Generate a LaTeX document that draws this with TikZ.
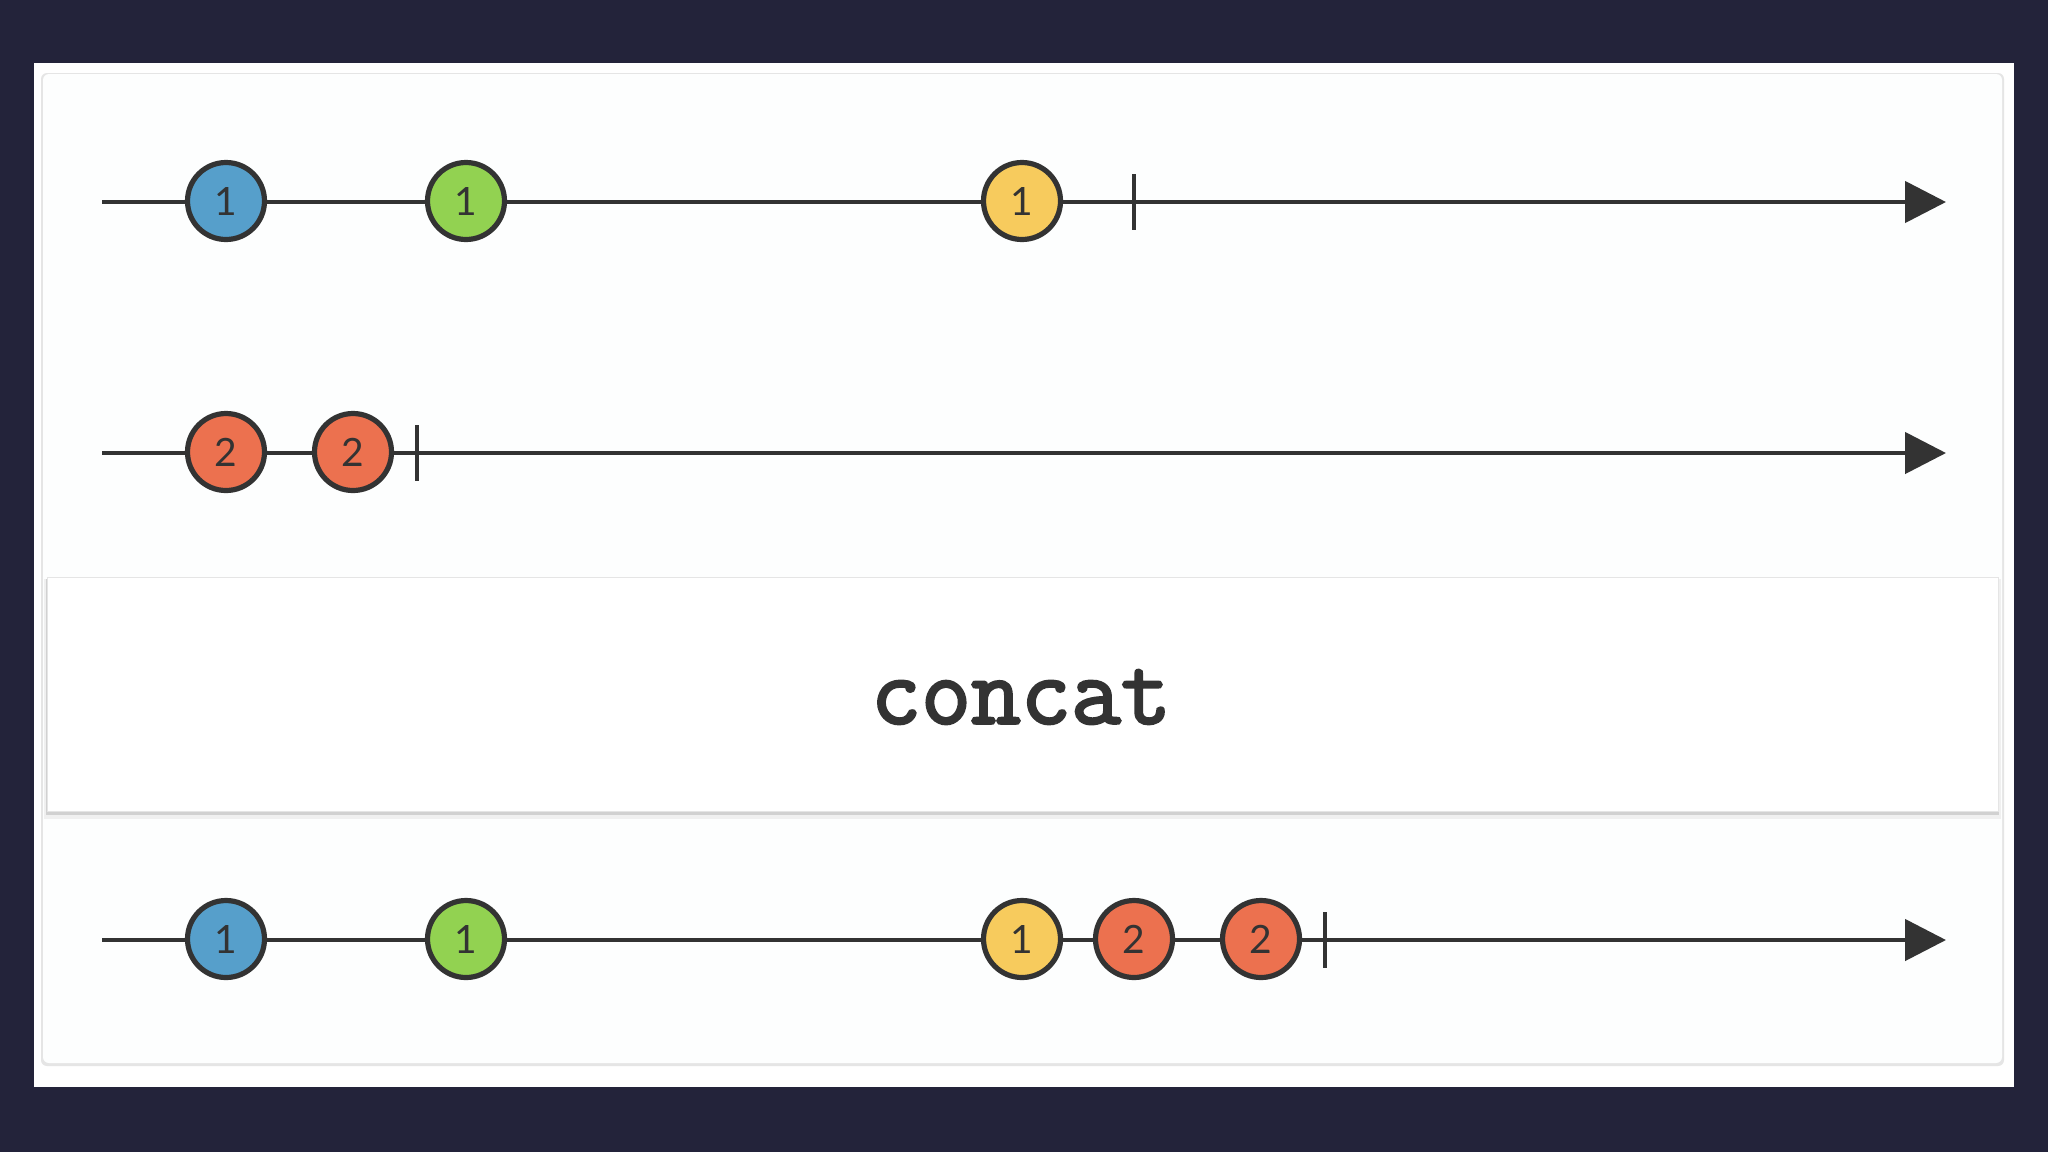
\documentclass[tikz,border=0pt]{standalone}
\usepackage{fontspec}
\setmainfont{Lato}
\newfontfamily\opfont[FakeBold=2.6]{Latin Modern Mono}
\usetikzlibrary{arrows.meta}
\definecolor{bgdark}{HTML}{23233A}
\definecolor{ink}{HTML}{333333}
\definecolor{mblue}{HTML}{569FCB}
\definecolor{mgreen}{HTML}{92D251}
\definecolor{myellow}{HTML}{F7CB5D}
\definecolor{mred}{HTML}{EC714F}
\definecolor{panel}{HTML}{FDFEFE}
\tikzset{
  marble/.style={circle, draw=ink, line width=2.6pt, inner sep=0pt, minimum size=38.5pt, font=\fontsize{19.5}{19.5}\selectfont, text=ink},
  axis/.style={draw=ink, line width=2.3pt, -{Triangle[length=20.5pt,width=20.5pt]}},
  tick/.style={draw=ink, line width=2.3pt},
}
\begin{document}
\begin{tikzpicture}[x=0.5pt,y=-0.5pt]
\useasboundingbox (0,0) rectangle (2048,1152);
\fill[bgdark] (0,0) rectangle (2048,1152);
% outer white sheet
\fill[white] (34,63) rectangle (2014,1087);
% inner panel with soft edge
\fill[black!10, rounded corners=3pt] (41,73) rectangle (2004,1066);
\fill[panel, rounded corners=3pt] (43,74) rectangle (2002,1063);
% operator box with shadow
\fill[black!6] (44,579) rectangle (2001,819);
\fill[black!18] (46,579) rectangle (1999,815);
\node[draw=black!10, fill=white, line width=0.5pt, minimum width=975.5pt, minimum height=117pt, inner sep=0pt, anchor=north west] (op) at (47,577) {};
\node[font=\opfont\fontsize{48.5}{48.5}\selectfont, text=ink] (lbl) at (1021,697) {concat};

% row 1
\coordinate (s1) at (102,202);
\coordinate (e1) at (1946,202);
\draw[axis] (s1) -- (e1);
\coordinate (t1) at (1134,202);
\draw[tick] ([yshift=14pt]t1) -- ([yshift=-14pt]t1);
\node[marble, fill=mblue] (a1) at (226,201) {1};
\node[marble, fill=mgreen] (a2) at (466,201) {1};
\node[marble, fill=myellow] (a3) at (1022,201) {1};

% row 2
\coordinate (s2) at (102,453);
\coordinate (e2) at (1946,453);
\draw[axis] (s2) -- (e2);
\coordinate (t2) at (417,453);
\draw[tick] ([yshift=14pt]t2) -- ([yshift=-14pt]t2);
\node[marble, fill=mred] (b1) at (226,452) {2};
\node[marble, fill=mred] (b2) at (353,452) {2};

% row 3 (result)
\coordinate (s3) at (102,940);
\coordinate (e3) at (1946,940);
\draw[axis] (s3) -- (e3);
\coordinate (t3) at (1325,940);
\draw[tick] ([yshift=14pt]t3) -- ([yshift=-14pt]t3);
\node[marble, fill=mblue] (c1) at (226,939) {1};
\node[marble, fill=mgreen] (c2) at (466,939) {1};
\node[marble, fill=myellow] (c3) at (1022,939) {1};
\node[marble, fill=mred] (c4) at (1134,939) {2};
\node[marble, fill=mred] (c5) at (1261,939) {2};
\end{tikzpicture}
\end{document}
